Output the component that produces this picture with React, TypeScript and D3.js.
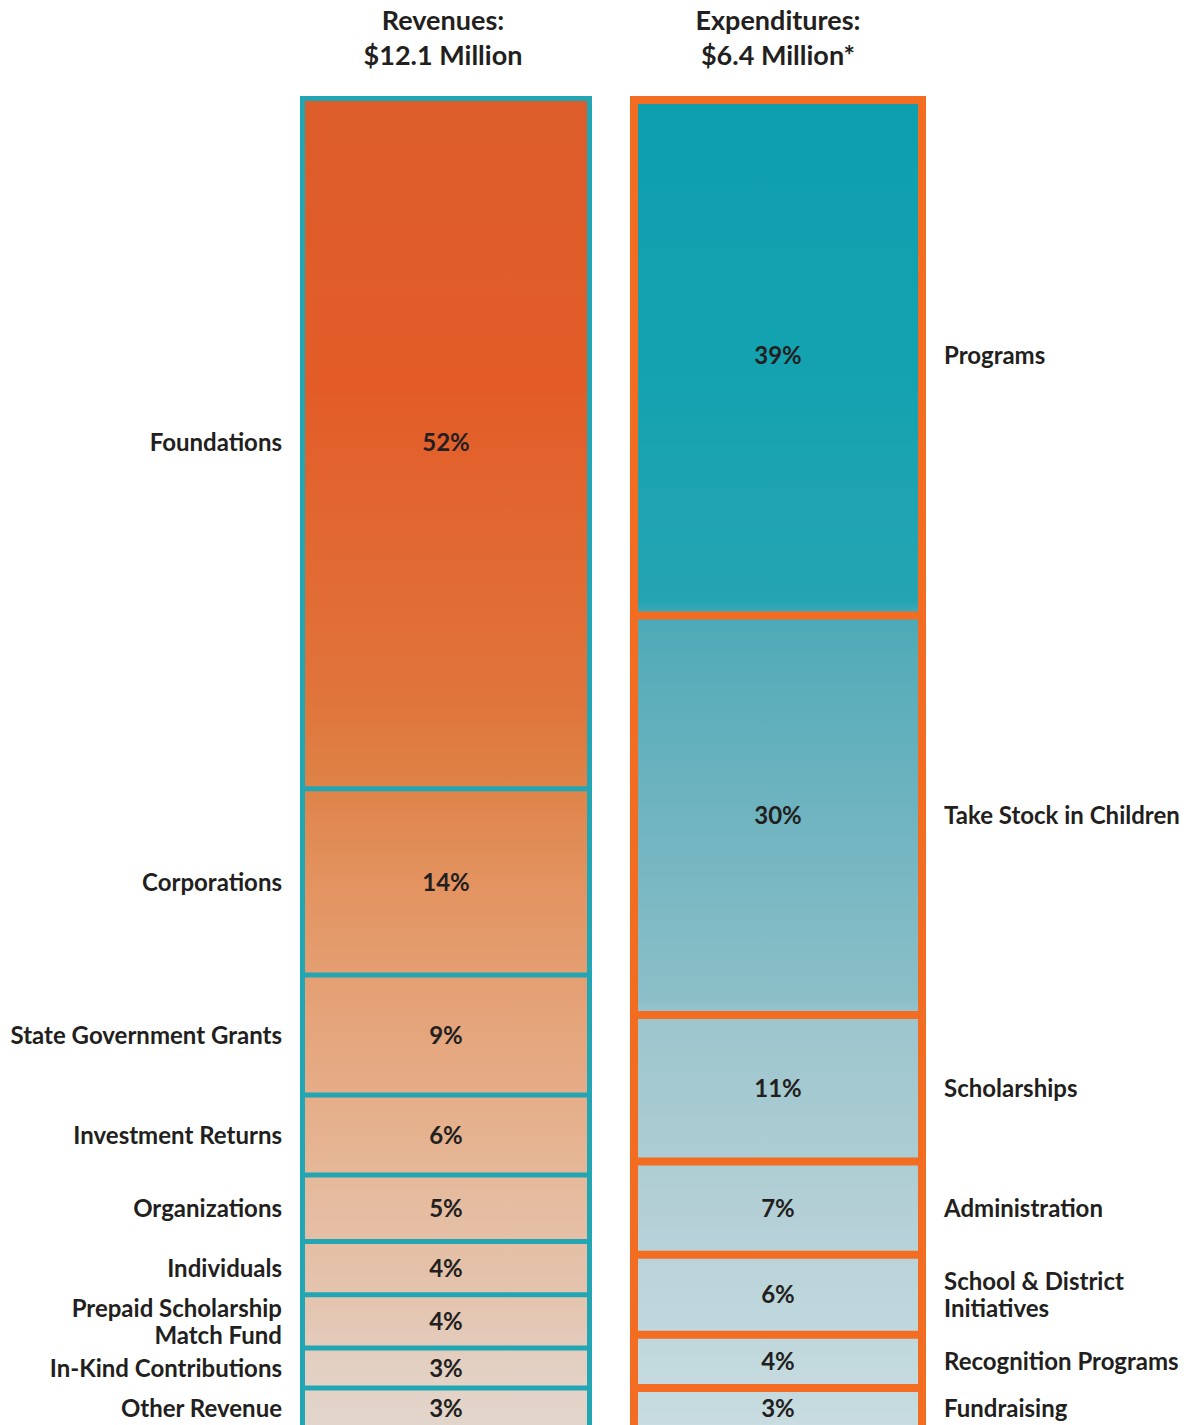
import * as d3 from 'd3';
import React from 'react';

// Revenues (percent of $12.1M)
const revenueCategories: string[] = [
  'Foundations',
  'Corporations',
  'State Government Grants',
  'Investment Returns',
  'Organizations',
  'Individuals',
  'Prepaid Scholarship\nMatch Fund',
  'In-Kind Contributions',
  'Other Revenue',
];
const revenueValues: number[] = [52, 14, 9, 6, 5, 4, 4, 3, 3];

// Expenditures (percent of $6.4M)
const expenseCategories: string[] = [
  'Programs',
  'Take Stock in Children',
  'Scholarships',
  'Administration',
  'School & District\nInitiatives',
  'Recognition Programs',
  'Fundraising',
];
const expenseValues: number[] = [39, 30, 11, 7, 6, 4, 3];

const revenueTitle: string[] = ['Revenues:', '$12.1 Million'];
const expenseTitle: string[] = ['Expenditures:', '$6.4 Million*'];

const width: number = 1188;
const height: number = 1425;
const teal: string = '#22a6b3';
const orange: string = '#f26c22';
const ink: string = '#231f20';
const font: string = 'Lato, "Open Sans", sans-serif';

// gradient stops, offsets in percent of the bar
const revenueStops: [number, string][] = [
  [0, '#dc5d2a'], [22, '#e35c28'], [45, '#e0743a'], [51, '#de8146'],
  [59, '#e39360'], [70, '#e5a57c'], [78, '#e5b28f'], [83, '#e5bca0'],
  [88, '#e4c1a9'], [92, '#e4c7b4'], [95, '#e3cfc2'], [100, '#e2d6cc'],
];
const expenseStops: [number, string][] = [
  [0, '#0e9fae'], [18, '#12a2b0'], [38, '#25a4b3'], [39, '#4ba9b7'],
  [42, '#56acb9'], [54, '#6fb4c0'], [68, '#8cbfc8'], [69, '#9cc5cd'],
  [75, '#a5c9d0'], [84, '#b4d0d6'], [90, '#bdd6db'], [95, '#c2d9de'],
  [100, '#c8dce1'],
];

const y = d3.scaleLinear().domain([0, 100]).range([96, 1428]);

type BarProps = {
  id: string;
  x0: number;
  x1: number;
  values: number[];
  labels: string[];
  border: string;
  borderWidth: number;
  stops: [number, string][];
  labelSide: 'left' | 'right';
  title: string[];
  titleShift: number;
};

const Bar = ({ id, x0, x1, values, labels, border, borderWidth, stops, labelSide, title, titleShift }: BarProps) => {
  const ends: number[] = Array.from(d3.cumsum(values));
  const starts: number[] = ends.map((e, i) => e - values[i]);
  const half = borderWidth / 2;
  const cx = (x0 + x1) / 2;
  const labelX = labelSide === 'left' ? x0 - 18 : x1 + 18;
  const anchor = labelSide === 'left' ? 'end' : 'start';
  const lineH = 27;

  return (
    <g>
      <defs>
        <linearGradient id={id} gradientUnits="userSpaceOnUse" x1={0} x2={0} y1={y(0)} y2={y(100)}>
          {stops.map(([o, c], i) => (
            <stop key={i} offset={`${o}%`} stopColor={c} />
          ))}
        </linearGradient>
      </defs>

      {title.map((t, i) => (
        <text key={i} x={cx + titleShift} y={30 + i * 35} textAnchor="middle" fontFamily={font}
          fontWeight={700} fontSize={27} fill={ink}>{t}</text>
      ))}

      <rect x={x0} y={y(0)} width={x1 - x0} height={y(100) - y(0)} fill={`url(#${id})`} />

      {/* separators between segments */}
      {ends.slice(0, -1).map((e, i) => (
        <line key={i} x1={x0} x2={x1} y1={y(e)} y2={y(e)} stroke={border} strokeWidth={borderWidth} />
      ))}

      <rect x={x0 + half} y={y(0) + half} width={x1 - x0 - borderWidth} height={y(100) - y(0)}
        fill="none" stroke={border} strokeWidth={borderWidth} />

      {values.map((v, i) => {
        const my = (y(starts[i]) + y(ends[i])) / 2;
        const lines = labels[i].split('\n');
        const top = my - ((lines.length - 1) * lineH) / 2;
        return (
          <g key={i}>
            <text x={cx} y={my} dy="0.36em" textAnchor="middle" fontFamily={font}
              fontWeight={700} fontSize={24} fill={ink}>{`${v}%`}</text>
            {lines.map((l, j) => (
              <text key={j} x={labelX} y={top + j * lineH} dy="0.36em" textAnchor={anchor}
                fontFamily={font} fontWeight={700} fontSize={24} fill={ink}>{l}</text>
            ))}
          </g>
        );
      })}
    </g>
  );
};

export default function App() {
  return (
    <svg width={width} height={height} viewBox={`0 0 ${width} ${height}`}
      style={{ display: 'block', position: 'absolute', left: 0, top: 0, background: '#ffffff' }}>
      <Bar id="revGrad" x0={300} x1={592} values={revenueValues} labels={revenueCategories}
        border={teal} borderWidth={5} stops={revenueStops} labelSide="left" title={revenueTitle} titleShift={-3} />
      <Bar id="expGrad" x0={630} x1={926} values={expenseValues} labels={expenseCategories}
        border={orange} borderWidth={8} stops={expenseStops} labelSide="right" title={expenseTitle} titleShift={0} />
    </svg>
  );
}
